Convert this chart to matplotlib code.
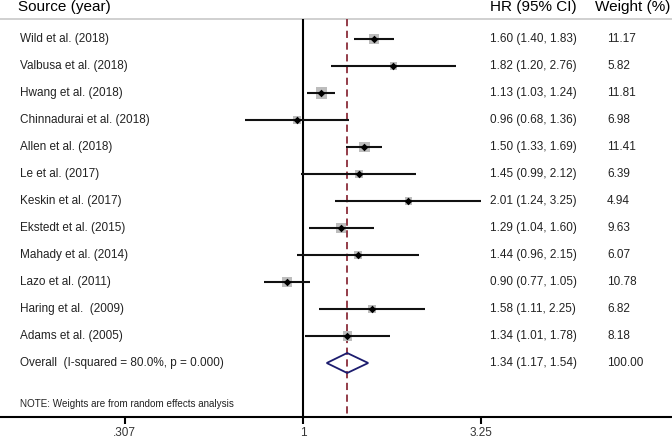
import numpy as np
import matplotlib
matplotlib.use("Agg")
import matplotlib.pyplot as plt
from matplotlib.patches import Polygon

plt.rcParams['font.family'] = ['Liberation Sans', 'DejaVu Sans']

studies = ['Wild et al. (2018)', 'Valbusa et al. (2018)', 'Hwang et al. (2018)',
           'Chinnadurai et al. (2018)', 'Allen et al. (2018)', 'Le et al. (2017)',
           'Keskin et al. (2017)', 'Ekstedt et al. (2015)', 'Mahady et al. (2014)',
           'Lazo et al. (2011)', 'Haring et al.  (2009)', 'Adams et al. (2005)']
hr = [1.60, 1.82, 1.13, 0.96, 1.50, 1.45, 2.01, 1.29, 1.44, 0.90, 1.58, 1.34]
lo = [1.40, 1.20, 1.03, 0.68, 1.33, 0.99, 1.24, 1.04, 0.96, 0.77, 1.11, 1.01]
hi = [1.83, 2.76, 1.24, 1.36, 1.69, 2.12, 3.25, 1.60, 2.15, 1.05, 2.25, 1.78]
weights = [11.17, 5.82, 11.81, 6.98, 11.41, 6.39, 4.94, 9.63, 6.07, 10.78, 6.82, 8.18]

overall_label = 'Overall  (I-squared = 80.0%, p = 0.000)'
overall_hr, overall_lo, overall_hi, overall_w = 1.34, 1.17, 1.54, 100.00

xticks = [0.307, 1, 3.25]
xticklabels = ['.307', '1', '3.25']

W, H = 672, 438
fig = plt.figure(figsize=(W / 100, H / 100), dpi=100)
axis_px = 417
ax = fig.add_axes([0, (H - axis_px) / H, 1, axis_px / H])

# pixel mapping: x_px = 303 + 151*ln(x); rows at 39 + 27*i px
x0, k = 303.0, 151.0
ax.set_xscale('log')
ax.set_xlim(np.exp(-x0 / k), np.exp((W - x0) / k))
row0, dy = 39.0, 27.0
ax.set_ylim((axis_px - row0) / dy, -row0 / dy)

def px2x(px):
    return np.exp((px - x0) / k)

n = len(studies)
ax.set_facecolor('white')
for s in ['top', 'left', 'right']:
    ax.spines[s].set_visible(False)
ax.spines['bottom'].set_linewidth(1.5)
ax.set_yticks([])
ax.set_xticks(xticks)
ax.set_xticklabels(xticklabels)
ax.minorticks_off()
ax.tick_params(axis='x', direction='out', length=5, width=1.5, pad=2,
               labelsize=8.5, labelcolor='#333333')

header_row = -1.2
line_row = -0.74
ax.axhline(line_row, color='#c8c8c8', lw=1.2)
ax.vlines(1, line_row, (axis_px - row0) / dy, color='black', lw=1.5)
ax.vlines(overall_hr, line_row, (axis_px - row0) / dy, color='#8b2d3a', lw=1.3,
          linestyles=(0, (4, 2.5)))

ys = np.arange(n)
for i in range(n):
    ax.hlines(ys[i], lo[i], hi[i], color='#111111', lw=1.5, zorder=3)
ax.scatter(hr, ys, s=np.array(weights) * 5.4, marker='s', color='#bdbdbd',
           zorder=2, linewidths=0)
ax.scatter(hr, ys, s=15, marker='D', color='black', zorder=4, linewidths=0)

# overall diamond
yo = n
hh = 0.37
diamond = Polygon([[overall_lo, yo], [overall_hr, yo - hh], [overall_hi, yo],
                   [overall_hr, yo + hh]], closed=True, fill=False,
                  edgecolor='#1c1c6e', lw=1.3, zorder=4)
ax.add_patch(diamond)

# text columns
xl, xhr, xw = px2x(20), px2x(490), px2x(607)
ax.text(px2x(18), header_row, 'Source (year)', fontsize=11, va='center', color='black')
ax.text(xhr, header_row, 'HR (95% CI)', fontsize=11, va='center', color='black')
ax.text(px2x(595), header_row, 'Weight (%)', fontsize=11, va='center', color='black')

for i in range(n):
    ax.text(xl, ys[i], studies[i], fontsize=8.5, va='center', color='#222222')
    ax.text(xhr, ys[i], '%.2f (%.2f, %.2f)' % (hr[i], lo[i], hi[i]), fontsize=8.5,
            va='center', color='#222222')
    ax.text(xw, ys[i], '%.2f' % weights[i], fontsize=8.5, va='center', color='#222222')

ax.text(xl, yo, overall_label, fontsize=8.5, va='center', color='#222222')
ax.text(xhr, yo, '%.2f (%.2f, %.2f)' % (overall_hr, overall_lo, overall_hi),
        fontsize=8.5, va='center', color='#222222')
ax.text(xw, yo, '%.2f' % overall_w, fontsize=8.5, va='center', color='#222222')

ax.text(xl, (404 - row0) / dy, 'NOTE: Weights are from random effects analysis',
        fontsize=7.1, va='center', color='#222222')

fig.savefig('out.png', dpi=100, facecolor='white')
